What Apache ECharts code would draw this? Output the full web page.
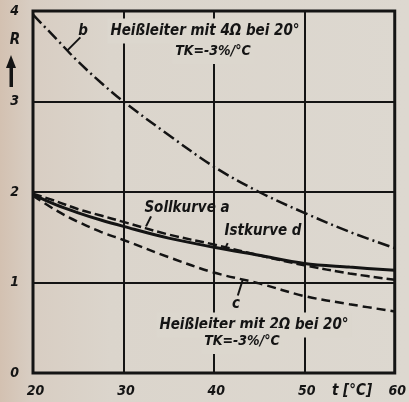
<!DOCTYPE html>
<html>
<head>
<meta charset="utf-8">
<script src="https://cdn.jsdelivr.net/npm/echarts@6/dist/echarts.min.js"></script>
<style>
  html, body { margin: 0; padding: 0; background: #dcd7ce; }
  #chart {
    width: 409px; height: 402px;
    background: linear-gradient(90deg, #d3c1b1 0px, #d8cdc2 30px, #dbd5cc 110px, #ddd8d0 409px);
  }
</style>
</head>
<body>
<div id="chart"></div>
<script>
// Temperature (°C) and resistance (Ω) of the NTC thermistor curves
const tempC   = [20, 22.5, 25, 27.5, 30, 35, 40, 45, 50, 55, 60];
const curveB  = [3.96, 3.70, 3.44, 3.21, 3.00, 2.63, 2.28, 2.00, 1.77, 1.56, 1.38]; // 4 Ω bei 20°
const curveA  = [1.98, 1.90, 1.81, 1.74, 1.67, 1.53, 1.42, 1.30, 1.19, 1.10, 1.03]; // Sollkurve a
const curveD  = [1.97, 1.86, 1.77, 1.69, 1.62, 1.49, 1.39, 1.30, 1.21, 1.17, 1.135]; // Istkurve d
const curveC  = [1.96, 1.80, 1.67, 1.56, 1.47, 1.28, 1.11, 0.99, 0.85, 0.76, 0.68]; // 2 Ω bei 20°

const xTicks = [20, 30, 40, 50, 60];
const yTicks = [0, 1, 2, 3, 4];

const INK = '#141414';
const PAPER = '#dcd7ce';
const FONT = "'DejaVu Sans Condensed','Liberation Sans Narrow','DejaVu Sans',sans-serif";

const pairs = (ys) => tempC.map((t, i) => [t, ys[i]]);

function txt(text, x, y, size, extra) {
  return {
    type: 'text', x: x, y: y, z: 20,
    style: Object.assign({
      text: text, fill: INK, fontFamily: FONT, fontSize: size,
      fontWeight: 'bold', fontStyle: 'italic',
      align: 'center', verticalAlign: 'middle'
    }, extra || {})
  };
}

const chart = echarts.init(document.getElementById('chart'), null, { renderer: 'canvas' });

const lineSeries = (name, ys, width, dash) => ({
  name: name, type: 'line', data: pairs(ys), smooth: 0.35, symbol: 'none',
  z: 5, silent: true,
  lineStyle: { color: INK, width: width, type: dash, cap: 'butt' }
});

const tickFont = {
  color: INK, fontFamily: FONT, fontSize: 14, fontWeight: 'bold', fontStyle: 'italic'
};

chart.setOption({
  animation: false,
  backgroundColor: 'transparent',
  grid: {
    left: 33, right: 9, top: 11, bottom: 29,
    show: true, borderColor: INK, borderWidth: 3, backgroundColor: 'transparent'
  },
  xAxis: {
    type: 'value', min: xTicks[0], max: xTicks[xTicks.length - 1], interval: 10,
    axisLine: { show: false }, axisTick: { show: false },
    splitLine: { show: true, lineStyle: { color: INK, width: 2 } },
    axisLabel: Object.assign({ margin: 11, padding: [0, 0, 0, 5] }, tickFont)
  },
  yAxis: {
    type: 'value', min: yTicks[0], max: yTicks[yTicks.length - 1], interval: 1,
    axisLine: { show: false }, axisTick: { show: false },
    splitLine: { show: true, lineStyle: { color: INK, width: 2 } },
    axisLabel: Object.assign({ margin: 14, padding: [6, 0, 0, 0] }, tickFont)
  },
  series: [
    lineSeries('b', curveB, 2.5, [12, 4, 2, 4]),
    lineSeries('a', curveA, 2.5, [9, 4]),
    lineSeries('d', curveD, 3, 'solid'),
    lineSeries('c', curveC, 2.5, [9, 5])
  ]
});

// Annotation leaders are anchored on the curves via the chart's own coordinate system
const px = (t, r) => chart.convertToPixel({ gridIndex: 0 }, [t, r]);
function leader(t, r, dx, dy) {
  const p = px(t, r);
  return {
    type: 'line', z: 20,
    shape: { x1: p[0], y1: p[1], x2: p[0] + dx, y2: p[1] + dy },
    style: { stroke: INK, lineWidth: 2 }
  };
}
function valueAt(ys, t) {
  for (let i = 0; i < tempC.length - 1; i++) {
    if (t >= tempC[i] && t <= tempC[i + 1]) {
      const f = (t - tempC[i]) / (tempC[i + 1] - tempC[i]);
      return ys[i] + f * (ys[i + 1] - ys[i]);
    }
  }
  return ys[ys.length - 1];
}

const boxed = { backgroundColor: PAPER, padding: [5, 3, 5, 3] };

chart.setOption({
  graphic: [
    // y-axis quantity with arrow
    txt('R', 15, 40, 15),
    { type: 'polygon', z: 20, shape: { points: [[6, 68], [16, 68], [11, 55]] }, style: { fill: INK } },
    { type: 'rect', z: 20, shape: { x: 9.5, y: 66, width: 3.5, height: 21 }, style: { fill: INK } },
    // x-axis quantity
    txt('t [°C]', 352, 391, 15),
    // upper thermistor note
    txt('Heißleiter mit 4Ω bei 20°', 205, 31, 15, boxed),
    txt('TK=-3%/°C', 213, 51, 14, { backgroundColor: PAPER, padding: [6, 3, 6, 3] }),
    txt('b', 83, 31, 15),
    leader(23.8, valueAt(curveB, 23.8), 13, -13),
    // middle curve labels
    txt('Sollkurve a', 187, 208, 15),
    leader(32.5, valueAt(curveA, 32.5) + 0.02, 5, -10),
    txt('Istkurve d', 263, 231, 15),
    leader(41.2, valueAt(curveD, 41.2), 3, -6),
    txt('c', 236, 304, 15),
    leader(43.2, valueAt(curveC, 43.2), -5, 16),
    // lower thermistor note
    txt('Heißleiter mit 2Ω bei 20°', 254, 325, 15, boxed),
    txt('TK=-3%/°C', 242, 341, 14, { backgroundColor: PAPER, padding: [6, 3, 6, 3] })
  ]
});
</script>
</body>
</html>
